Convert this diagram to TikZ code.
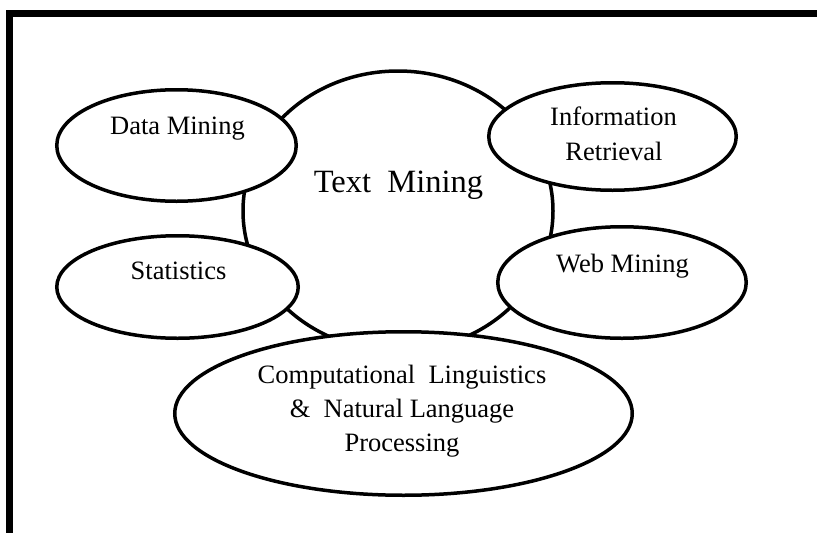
\documentclass[tikz,border=0pt]{standalone}
\usepackage{fontspec}
\setmainfont{Liberation Serif}
\usetikzlibrary{shapes.geometric}
\begin{document}
\begin{tikzpicture}[x=1pt,y=-1pt,
  oval/.style={draw, ellipse, line width=3.5pt, fill=white, inner sep=0pt},
  lbl/.style={anchor=base, inner sep=0pt, font=\fontsize{26.5}{32}\selectfont},
  big/.style={anchor=base, inner sep=0pt, font=\fontsize{32.5}{38}\selectfont}]
\useasboundingbox (0,0) rectangle (817,533);
% frame (top and left)
\fill (6,10) rectangle (817,17);
\fill (6,10) rectangle (13,533);
% central shape
\node[oval, minimum width=310pt, minimum height=280pt] (tm) at (398,211) {};
% surrounding ovals
\node[oval, minimum width=239.5pt, minimum height=111.5pt] (dm) at (176.5,145.5) {};
\node[oval, minimum width=247.5pt, minimum height=107.5pt] (ir) at (612.5,136.5) {};
\node[oval, minimum width=241.5pt, minimum height=102.5pt] (st) at (177.5,287) {};
\node[oval, minimum width=248.5pt, minimum height=111.5pt] (wm) at (622,282.5) {};
\node[oval, minimum width=457.5pt, minimum height=163.5pt] (cl) at (403.5,413.5) {};
% labels
\node[big] (tmt) at (398.5,192) {Text\ \ Mining};
\node[lbl] (dmt) at (177.5,134) {Data Mining};
\node[lbl] (irt1) at (613.5,125) {Information};
\node[lbl] (irt2) at (614,160) {Retrieval};
\node[lbl] (stt) at (178.5,279) {Statistics};
\node[lbl] (wmt) at (622.5,272) {Web Mining};
\node[lbl] (clt1) at (402,383) {Computational\ \ Linguistics};
\node[lbl] (clt2) at (402,417) {\&\ \ Natural Language};
\node[lbl] (clt3) at (402,451) {Processing};
\end{tikzpicture}
\end{document}
